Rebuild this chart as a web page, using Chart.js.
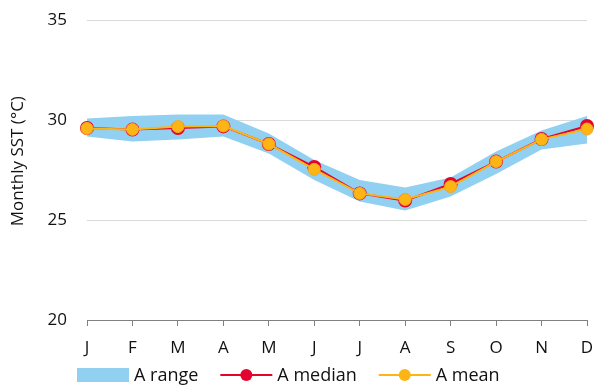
<!DOCTYPE html>
<html>
<head>
<meta charset="utf-8">
<script src="https://cdn.jsdelivr.net/npm/chart.js@4"></script>
<style>
    body { margin: 0; background: #fff; }
    #box { width: 597px; height: 387px; }
</style>
</head>
<body>
<div id="box"><canvas id="sst"></canvas></div>
<script>
const months = ['J', 'F', 'M', 'A', 'M', 'J', 'J', 'A', 'S', 'O', 'N', 'D'];
const rangeHigh = [30.08, 30.2, 30.28, 30.28, 29.33, 28.0, 27.0, 26.63, 27.13, 28.42, 29.47, 30.2];
const rangeLow = [29.17, 28.92, 29.03, 29.17, 28.33, 27.0, 25.92, 25.47, 26.17, 27.3, 28.53, 28.83];
const median = [29.6, 29.52, 29.6, 29.68, 28.8, 27.65, 26.33, 25.97, 26.8, 27.92, 29.05, 29.7];
const mean = [29.58, 29.53, 29.67, 29.7, 28.8, 27.53, 26.33, 26.03, 26.67, 27.92, 29.03, 29.55];
const yTicks = [20, 25, 30, 35];
const legendNames = ['A range', 'A median', 'A mean'];

const BLUE = '#92d0f1';
const RED = '#e4032e';
const ORANGE = '#fdb515';
const FONT = 'Open Sans';

// legend drawn by hand: box for the band, line + dot for the series
const bottomLegend = {
    id: 'bottomLegend',
    afterDraw(chart) {
        const ctx = chart.ctx;
        const colors = [BLUE, RED, ORANGE];
        const y = chart.height - 12;
        let x = chart.chartArea.left - 10;
        ctx.save();
        ctx.font = '18px "' + FONT + '"';
        ctx.textBaseline = 'middle';
        legendNames.forEach((name, i) => {
            if (i === 0) {
                ctx.fillStyle = colors[i];
                ctx.fillRect(x, y - 7, 52, 14);
            } else {
                ctx.strokeStyle = colors[i];
                ctx.lineWidth = 2;
                ctx.beginPath();
                ctx.moveTo(x, y);
                ctx.lineTo(x + 52, y);
                ctx.stroke();
                ctx.fillStyle = colors[i];
                ctx.beginPath();
                ctx.arc(x + 26, y, 6, 0, Math.PI * 2);
                ctx.fill();
            }
            x += 57;
            ctx.fillStyle = '#111';
            ctx.fillText(name, x, y + 1);
            x += ctx.measureText(name).width + 22;
        });
        ctx.restore();
    }
};

const data = {
    labels: months,
    datasets: [{
        label: 'A range',
        data: rangeHigh,
        borderWidth: 0,
        pointRadius: 0,
        backgroundColor: BLUE,
        fill: '+1',
        order: 3
    }, {
        label: 'A range low',
        data: rangeLow,
        borderWidth: 0,
        pointRadius: 0,
        backgroundColor: BLUE,
        fill: false,
        order: 3
    }, {
        label: 'A median',
        data: median,
        borderColor: RED,
        borderWidth: 2,
        backgroundColor: RED,
        pointBackgroundColor: RED,
        pointBorderColor: RED,
        pointRadius: 6,
        fill: false,
        order: 1
    }, {
        label: 'A mean',
        data: mean,
        borderColor: ORANGE,
        borderWidth: 2,
        backgroundColor: ORANGE,
        pointBackgroundColor: ORANGE,
        pointBorderColor: '#f5a623',
        pointBorderWidth: 1,
        pointRadius: 6,
        fill: false,
        order: 0
    }]
};

const config = {
    type: 'line',
    data,
    options: {
        responsive: true,
        maintainAspectRatio: false,
        animation: false,
        layout: { padding: { top: 0, right: 0, left: 0, bottom: 25 } },
        elements: { line: { tension: 0 } },
        plugins: {
            tooltip: { enabled: false },
            legend: { display: false }
        },
        scales: {
            x: {
                offset: false,
                grid: {
                    display: true,
                    drawOnChartArea: false,
                    drawTicks: true,
                    tickLength: 6,
                    color: '#808080'
                },
                border: { display: true, color: '#808080', width: 1 },
                ticks: {
                    color: '#111',
                    padding: 12,
                    maxRotation: 0,
                    font: { family: FONT, size: 17 }
                },
                afterFit: (s) => {
                    s.height = 42;
                    s.paddingLeft = 0;
                    s.paddingRight = 10;
                }
            },
            y: {
                min: 20,
                max: 35,
                afterBuildTicks: (s) => { s.ticks = yTicks.map(v => ({ value: v })); },
                grid: { color: '#d9d9d9', lineWidth: 1, drawTicks: false },
                border: { display: false },
                ticks: {
                    color: '#111',
                    padding: 20,
                    font: { family: FONT, size: 17 }
                },
                title: {
                    display: true,
                    // leading spaces nudge the title a bit up
                    text: '    Monthly SST (°C)',
                    color: '#111',
                    font: { family: FONT, size: 17 },
                    padding: { top: 8, bottom: 0 }
                },
                afterFit: (s) => {
                    s.width = 87;
                    s.paddingTop = 20;
                    s.paddingBottom = 0;
                }
            }
        }
    },
    plugins: [bottomLegend]
};

var chart = new Chart(
    document.getElementById('sst'),
    config
);
</script>
</body>
</html>
